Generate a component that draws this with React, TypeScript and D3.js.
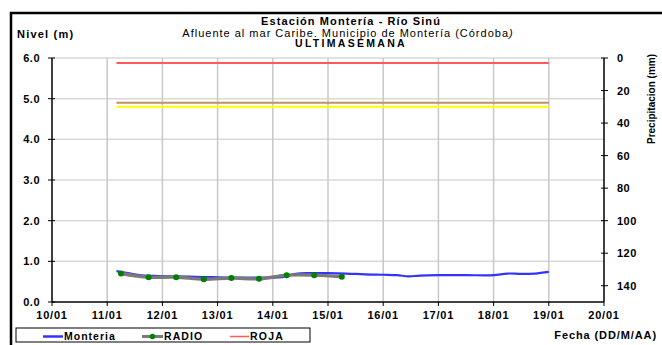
import React from "react";
import * as d3 from "d3";

// Serie Monteria (nivel, m)
const monteriaTimes = [
  "11/01 04:00", "11/01 09:00", "11/01 14:00", "11/01 20:00", "12/01 06:00", "12/01 14:00",
  "12/01 22:00", "13/01 06:00", "13/01 14:00", "13/01 22:00", "14/01 04:00", "14/01 10:00",
  "14/01 16:00", "15/01 00:00", "15/01 08:00", "15/01 16:00", "16/01 00:00", "16/01 06:00",
  "16/01 11:00", "16/01 16:00", "17/01 00:00", "17/01 12:00", "18/01 00:00", "18/01 06:00",
  "18/01 12:00", "18/01 18:00", "19/01 00:00",
];
const monteriaValues = [
  0.76, 0.71, 0.66, 0.64, 0.63, 0.62,
  0.61, 0.60, 0.60, 0.60, 0.61, 0.69,
  0.71, 0.71, 0.70, 0.68, 0.67, 0.66,
  0.63, 0.65, 0.66, 0.66, 0.66, 0.70,
  0.69, 0.70, 0.74,
];

// Serie RADIO
const radioTimes = [
  "11/01 06:00", "11/01 18:00", "12/01 06:00", "12/01 18:00", "13/01 06:00",
  "13/01 18:00", "14/01 06:00", "14/01 18:00", "15/01 06:00",
];
const radioValues = [0.70, 0.61, 0.61, 0.56, 0.59, 0.57, 0.66, 0.66, 0.62];

// Umbrales
const alertTimes = ["11/01 04:00", "19/01 00:00"];
const rojaLevel = 5.88;
const naranjaLevel = 4.9;
const amarillaLevel = 4.8;

// Ejes
const dayLabels = ["10/01", "11/01", "12/01", "13/01", "14/01", "15/01", "16/01", "17/01", "18/01", "19/01", "20/01"];
const levelTicks = [0, 1, 2, 3, 4, 5, 6];
const rainTicks = [0, 20, 40, 60, 80, 100, 120, 140];

const parse = d3.timeParse("%d/%m %H:%M");
const font = "'Liberation Sans', Arial, sans-serif";

export default function App() {
  const W = 662;
  const H = 345;
  const left = 52, right = 604, top = 58, bottom = 302;

  const x = d3.scaleTime()
    .domain([parse("10/01 00:00")!, parse("20/01 00:00")!])
    .range([left, right]);
  const y = d3.scaleLinear().domain([0, 6]).range([bottom, top]);
  const yRain = d3.scaleLinear().domain([0, 150]).range([top, bottom]);

  const monteria = monteriaTimes.map((t, i) => ({ t: parse(t)!, v: monteriaValues[i] }));
  const radio = radioTimes.map((t, i) => ({ t: parse(t)!, v: radioValues[i] }));

  const line = d3.line<{ t: Date; v: number }>()
    .x(d => x(d.t))
    .y(d => y(d.v))
    .curve(d3.curveCatmullRom.alpha(0.5));

  const a0 = x(parse(alertTimes[0])!);
  const a1 = x(parse(alertTimes[1])!);

  const dayDates = dayLabels.map(l => parse(l + " 00:00")!);

  return (
    <svg width={W} height={H} style={{ position: "absolute", left: 0, top: 0 }} fontFamily={font}>
      <rect x={0} y={0} width={W} height={H} fill="#fff" />
      <rect x={11} y={13} width={W + 20} height={H + 20} fill="none" stroke="#000" strokeWidth={2.5} />

      {/* titulos */}
      <text x={351} y={25} textAnchor="middle" fontSize={11} fontWeight="bold" letterSpacing={1.1}>Estación Montería  - Río Sinú</text>
      <text x={348} y={36.5} textAnchor="middle" fontSize={11} letterSpacing={1}>Afluente al mar Caribe. Municipio de Montería (Córdoba<tspan fontStyle="italic">)</tspan></text>
      <text x={351} y={47} textAnchor="middle" fontSize={10.5} fontWeight="bold" letterSpacing={2.3}>ULTIMASEMANA</text>
      <text x={17} y={38} fontSize={11} fontWeight="bold" letterSpacing={1.2}>Nivel (m)</text>

      {/* rejilla */}
      {levelTicks.filter(v => v > 0).map(v => (
        <line key={"h" + v} x1={left} x2={right} y1={y(v)} y2={y(v)} stroke="#d9d9d9" strokeWidth={1.5} />
      ))}
      {dayDates.slice(1, -1).map((d, i) => (
        <line key={"v" + i} x1={x(d)} x2={x(d)} y1={top} y2={bottom} stroke="#c8c8c8" strokeWidth={1.5} />
      ))}

      {/* umbrales */}
      <line x1={a0} x2={a1} y1={y(rojaLevel)} y2={y(rojaLevel)} stroke="#ff5a5a" strokeWidth={2} />
      <line x1={a0} x2={a1} y1={y(naranjaLevel)} y2={y(naranjaLevel)} stroke="#c0906a" strokeWidth={2} />
      <line x1={a0} x2={a1} y1={y(amarillaLevel)} y2={y(amarillaLevel)} stroke="#ffff00" strokeWidth={2} />

      {/* series */}
      <path d={line(monteria) || ""} fill="none" stroke="#3333ff" strokeWidth={2.2} />
      <path d={line(radio) || ""} fill="none" stroke="#7a7a7a" strokeWidth={3.4} />
      {radio.map((d, i) => (
        <circle key={"r" + i} cx={x(d.t)} cy={y(d.v)} r={3} fill="#008000" />
      ))}

      {/* ejes */}
      <line x1={left} x2={left} y1={top} y2={bottom} stroke="#404040" strokeWidth={2} />
      <line x1={right} x2={right} y1={top} y2={bottom} stroke="#000" strokeWidth={1.5} />
      <line x1={left} x2={right} y1={bottom} y2={bottom} stroke="#000" strokeWidth={1.5} />

      {levelTicks.map(v => (
        <g key={"yl" + v}>
          <line x1={left - 4} x2={left + 3} y1={y(v)} y2={y(v)} stroke="#000" strokeWidth={1} />
          <text x={40} y={y(v) + 4} textAnchor="end" fontSize={11} fontWeight="bold" letterSpacing={0.5}>{d3.format(".1f")(v)}</text>
        </g>
      ))}
      {rainTicks.map(v => (
        <g key={"yr" + v}>
          <line x1={right - 3} x2={right + 4} y1={yRain(v)} y2={yRain(v)} stroke="#000" strokeWidth={1} />
          <text x={617} y={yRain(v) + 4} fontSize={11} fontWeight="bold" letterSpacing={0.5}>{v}</text>
        </g>
      ))}
      {dayDates.map((d, i) => (
        <g key={"xl" + i}>
          <line x1={x(d)} x2={x(d)} y1={bottom} y2={bottom + 4} stroke="#000" strokeWidth={1} />
          <text x={x(d)} y={319} textAnchor="middle" fontSize={11} fontWeight="bold" letterSpacing={0.8}>{dayLabels[i]}</text>
        </g>
      ))}

      <text transform="translate(655,99) rotate(-90)" textAnchor="middle" fontSize={10} fontWeight="bold">Precipitacion (mm)</text>
      <text x={657} y={339} textAnchor="end" fontSize={11} fontWeight="bold" letterSpacing={0.9}>Fecha (DD/M/AA)</text>

      {/* leyenda */}
      <rect x={16} y={328} width={294} height={14} fill="#fff" stroke="#000" strokeWidth={1} />
      <line x1={43} x2={63} y1={336.5} y2={336.5} stroke="#3333ff" strokeWidth={2.5} />
      <text x={64} y={340} fontSize={10.5} fontWeight="bold" letterSpacing={1}>Monteria</text>
      <line x1={142} x2={163} y1={336.5} y2={336.5} stroke="#7a7a7a" strokeWidth={3} />
      <circle cx={152.5} cy={336.5} r={2.7} fill="#008000" />
      <text x={164} y={340} fontSize={10.5} fontWeight="bold" letterSpacing={1.1}>RADIO</text>
      <line x1={230} x2={249} y1={336.5} y2={336.5} stroke="#ff5a5a" strokeWidth={1.5} />
      <text x={250} y={340} fontSize={10.5} fontWeight="bold" letterSpacing={1.2}>ROJA</text>
    </svg>
  );
}
